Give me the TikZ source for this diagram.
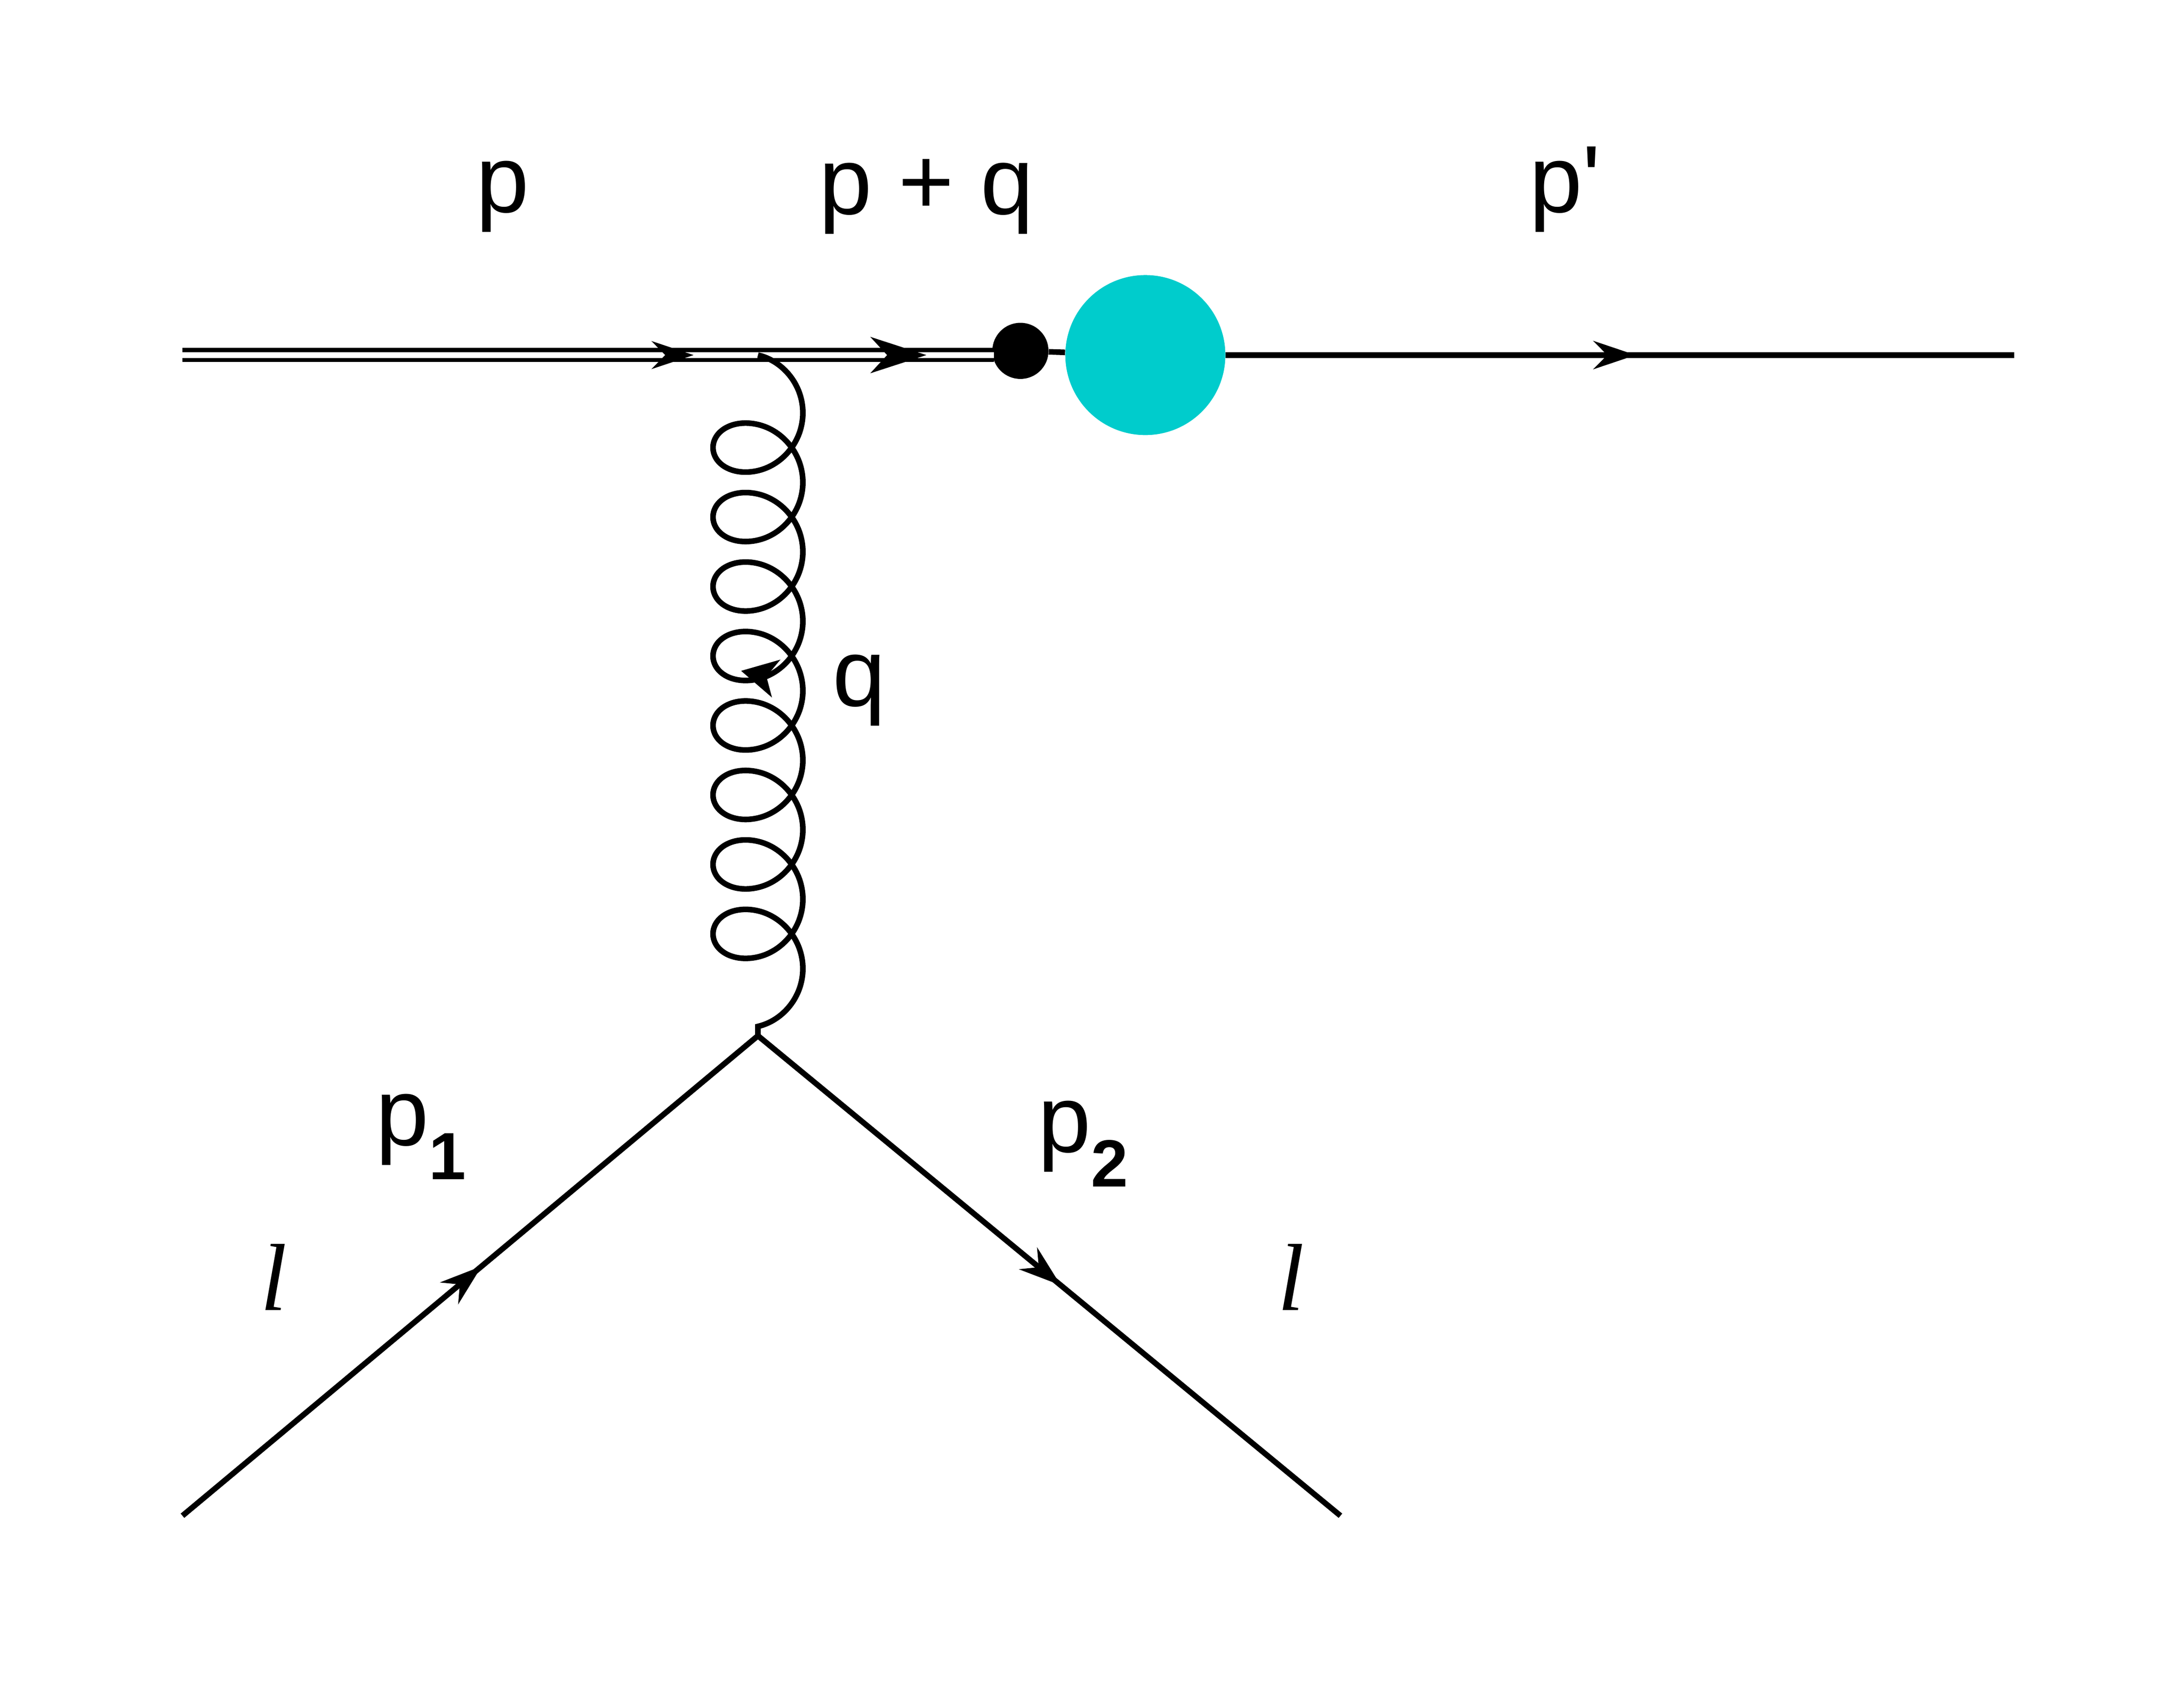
\documentclass[tikz,border=0pt]{standalone}
\usepackage{fontspec}
\setmainfont{Liberation Sans}
\newfontfamily\serifit{Liberation Serif}
\usetikzlibrary{decorations.pathmorphing,decorations.markings,arrows.meta}
\begin{document}
\begin{tikzpicture}[x=1pt,y=-1pt,
  lbl/.style={font=\fontsize{68}{70}\selectfont,inner sep=0pt},
  ln/.style={line width=4pt},
  arrowat/.style={postaction={decorate,decoration={markings,mark=at position #1 with {\arrow{Stealth[length=30pt,width=20pt]}}}}}]
\useasboundingbox (0,0) rectangle (1556,1204);
\coordinate (a) at (130,253);
\coordinate (g) at (540,253);
\coordinate (v) at (540,738);
\coordinate (e) at (708,253);
\node[circle,fill=black,minimum size=40pt,inner sep=0pt] (dot) at (727,250) {};
\node[circle,fill={rgb,255:red,0;green,204;blue,204},minimum size=114pt,inner sep=0pt] (blob) at (816,253) {};
\coordinate (out) at (1435,253);
\coordinate (l1) at (130,1080);
\coordinate (l2) at (955,1080);
\draw[line width=3pt,double,double distance=4pt] (a) -- (e);
\draw[ln] (dot) -- (blob);
\path[arrowat=0.63] (a) -- (e);
\fill (660,253) -- (620,240) -- (632,253) -- (620,266) -- cycle;
\draw[ln,arrowat=0.52] (blob.east) -- (out);
\draw[ln,decorate,decoration={coil,aspect=0.9,segment length=49.5pt,amplitude=32pt}] (g) -- (v);
\fill (528,478) -- (556,470) -- (546,482) -- (550,497) -- cycle;
\draw[ln,arrowat=0.52] (l1) -- (v);
\draw[ln,arrowat=0.52] (v) -- (l2);
\node[lbl] (tp) at (358,140) {p};
\node[lbl] (tpq) at (660,140) {p + q};
\node[lbl] (tpp) at (1115,135) {p\textquotesingle};
\node[lbl] (tq) at (612,492) {q};
\node[lbl] (tp1) at (300,810) {p$_{\mathbf 1}$};
\node[lbl] (tp2) at (772,815) {p$_{\mathbf 2}$};
\node[lbl] (tl1) at (195,910) {\serifit\itshape l};
\node[lbl] (tl2) at (920,910) {\serifit\itshape l};
\end{tikzpicture}
\end{document}
